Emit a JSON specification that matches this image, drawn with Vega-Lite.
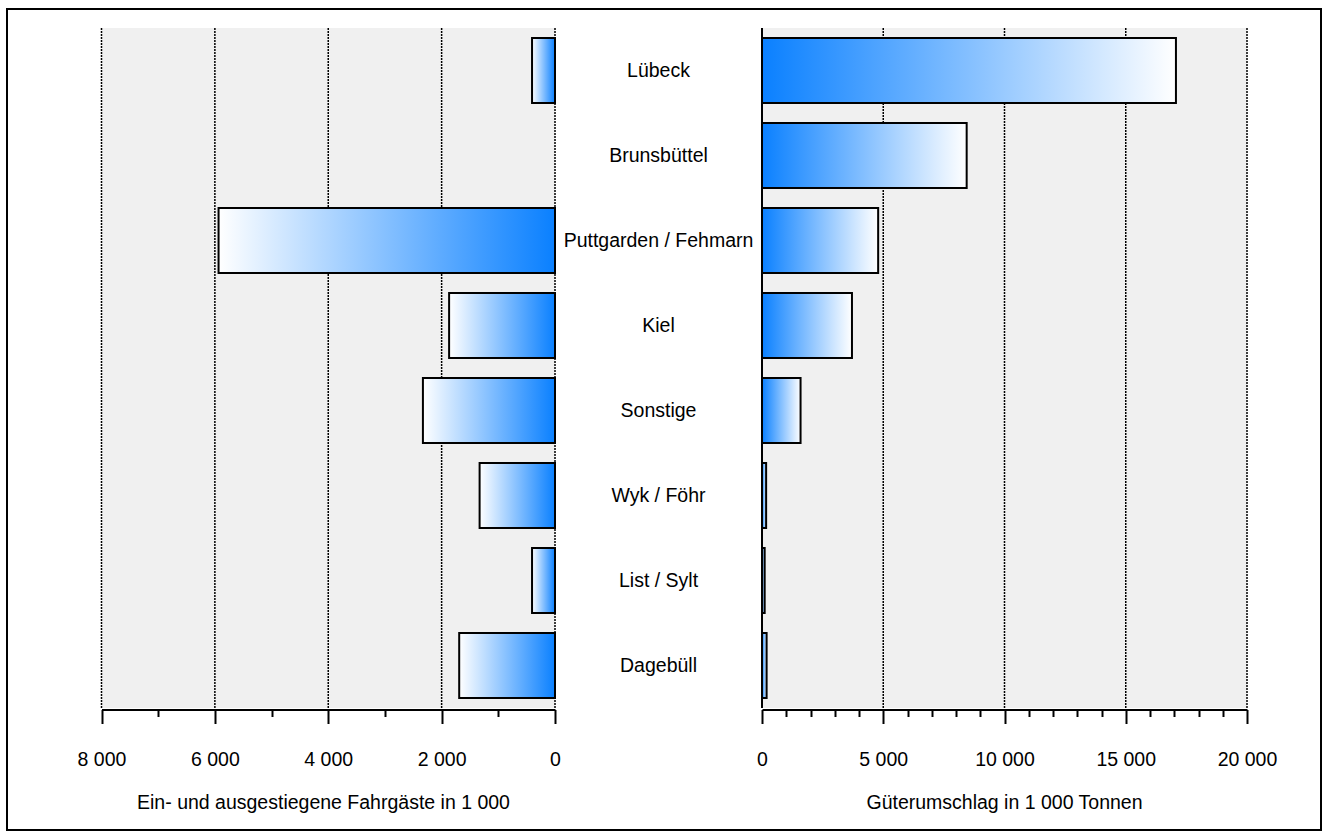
{
  "$schema": "https://vega.github.io/schema/vega-lite/v6.json",
  "width": 1314,
  "height": 821,
  "autosize": {"type": "none"},
  "padding": {"left": 7, "top": 9, "right": 4, "bottom": 4},
  "background": "white",
  "config": {
    "view": {"stroke": "black", "strokeWidth": 2},
    "font": "Liberation Sans, Arial, sans-serif",
    "axis": {
      "labelFont": "Liberation Sans, Arial, sans-serif",
      "titleFont": "Liberation Sans, Arial, sans-serif",
      "labelFontSize": 19.5,
      "titleFontSize": 19.5,
      "titleFontWeight": "normal",
      "labelColor": "black",
      "titleColor": "black",
      "domainColor": "black",
      "domainWidth": 2,
      "tickColor": "black",
      "tickWidth": 2,
      "grid": false,
      "labelFlush": false,
      "labelOverlap": false,
      "labelBaseline": "alphabetic",
      "labelPadding": 41.5,
      "titleBaseline": "alphabetic",
      "titleY": 98.5
    }
  },
  "datasets": {
    "haefen": [
      {"hafen": "Lübeck", "fahrgaeste": 405, "gueter": 17070},
      {"hafen": "Brunsbüttel", "fahrgaeste": null, "gueter": 8440},
      {"hafen": "Puttgarden / Fehmarn", "fahrgaeste": 5935, "gueter": 4790},
      {"hafen": "Kiel", "fahrgaeste": 1868, "gueter": 3710},
      {"hafen": "Sonstige", "fahrgaeste": 2330, "gueter": 1590},
      {"hafen": "Wyk / Föhr", "fahrgaeste": 1330, "gueter": 170},
      {"hafen": "List / Sylt", "fahrgaeste": 405, "gueter": 110},
      {"hafen": "Dagebüll", "fahrgaeste": 1690, "gueter": 190}
    ],
    "gitterLinks": [{"t": 0}, {"t": 2000}, {"t": 4000}, {"t": 6000}, {"t": 8000}],
    "gitterRechts": [{"t": 5000}, {"t": 10000}, {"t": 15000}, {"t": 20000}],
    "flaeche": [{}]
  },
  "layer": [
    {
      "layer": [
        {
          "data": {"name": "flaeche"},
          "mark": {"type": "rect", "fill": "#f0f0f0"},
          "encoding": {
            "x": {"datum": 0, "type": "quantitative", "scale": {"domain": [0, 8000], "range": [548, 94.5]}},
            "x2": {"datum": 8000},
            "y": {"datum": 0, "type": "quantitative", "scale": {"domain": [0, 1], "range": [699, 19]}, "axis": null},
            "y2": {"datum": 1}
          }
        },
        {
          "data": {"name": "gitterLinks"},
          "mark": {"type": "rule", "color": "black", "strokeDash": [2, 1], "strokeWidth": 1.5},
          "encoding": {
            "x": {"field": "t", "type": "quantitative", "scale": {"domain": [0, 8000], "range": [548, 94.5]}},
            "y": {"datum": 0, "type": "quantitative", "scale": {"domain": [0, 1], "range": [699, 19]}, "axis": null},
            "y2": {"datum": 1}
          }
        },
        {
          "data": {"name": "haefen"},
          "mark": {
            "type": "bar",
            "fill": {"gradient": "linear", "x1": 0, "x2": 1, "y1": 0, "y2": 0, "stops": [{"offset": 0, "color": "#ffffff"}, {"offset": 1, "color": "#0a80ff"}]},
            "stroke": "black",
            "strokeWidth": 2
          },
          "encoding": {
            "x": {
              "field": "fahrgaeste",
              "type": "quantitative",
              "scale": {"domain": [0, 8000], "range": [548, 94.5]},
              "axis": {
                "orient": "bottom",
                "offset": -120.5,
                "title": "Ein- und ausgestiegene Fahrgäste in 1 000",
                "titleX": 316,
                "values": [0, 1000, 2000, 3000, 4000, 5000, 6000, 7000, 8000],
                "tickSize": {"condition": {"test": "datum.value % 2000 === 0", "value": 14}, "value": 7},
                "labelExpr": "datum.value % 2000 === 0 ? replace(format(datum.value, ','), ',', ' ') : ''"
              }
            },
            "y": {"field": "hafen", "type": "nominal", "sort": null, "scale": {"domain": ["Lübeck", "Brunsbüttel", "Puttgarden / Fehmarn", "Kiel", "Sonstige", "Wyk / Föhr", "List / Sylt", "Dagebüll"], "range": [19, 699], "paddingInner": 0.235, "paddingOuter": 0.1175}, "axis": null}
          }
        }
      ],
      "resolve": {"scale": {"y": "independent"}}
    },
    {
      "data": {"name": "haefen"},
      "mark": {"type": "text", "fontSize": 19.5, "dx": -5.5, "baseline": "middle", "align": "center", "color": "black"},
      "encoding": {
        "y": {"field": "hafen", "type": "nominal", "sort": null, "scale": {"range": [19, 699], "paddingInner": 0.235, "paddingOuter": 0.1175}, "axis": null},
        "text": {"field": "hafen"}
      }
    },
    {
      "layer": [
        {
          "data": {"name": "flaeche"},
          "mark": {"type": "rect", "fill": "#f0f0f0"},
          "encoding": {
            "x": {"datum": 0, "type": "quantitative", "scale": {"domain": [0, 20000], "range": [755, 1240]}},
            "x2": {"datum": 20000},
            "y": {"datum": 0, "type": "quantitative", "scale": {"domain": [0, 1], "range": [699, 19]}, "axis": null},
            "y2": {"datum": 1}
          }
        },
        {
          "data": {"name": "gitterRechts"},
          "mark": {"type": "rule", "color": "black", "strokeDash": [2, 1], "strokeWidth": 1.5},
          "encoding": {
            "x": {"field": "t", "type": "quantitative", "scale": {"domain": [0, 20000], "range": [755, 1240]}},
            "y": {"datum": 0, "type": "quantitative", "scale": {"domain": [0, 1], "range": [699, 19]}, "axis": null},
            "y2": {"datum": 1}
          }
        },
        {
          "data": {"name": "flaeche"},
          "mark": {"type": "rule", "color": "black", "strokeWidth": 2},
          "encoding": {
            "x": {"datum": 0, "type": "quantitative", "scale": {"domain": [0, 20000], "range": [755, 1240]}},
            "y": {"datum": 0, "type": "quantitative", "scale": {"domain": [0, 1], "range": [699, 19]}, "axis": null},
            "y2": {"datum": 1}
          }
        },
        {
          "data": {"name": "haefen"},
          "mark": {
            "type": "bar",
            "fill": {"gradient": "linear", "x1": 0, "x2": 1, "y1": 0, "y2": 0, "stops": [{"offset": 0, "color": "#0a80ff"}, {"offset": 1, "color": "#ffffff"}]},
            "stroke": "black",
            "strokeWidth": 2
          },
          "encoding": {
            "x": {
              "field": "gueter",
              "type": "quantitative",
              "scale": {"domain": [0, 20000], "range": [755, 1240]},
              "axis": {
                "orient": "bottom",
                "offset": -120.5,
                "title": "Güterumschlag in 1 000 Tonnen",
                "titleX": 997,
                "values": [0, 1000, 2000, 3000, 4000, 5000, 6000, 7000, 8000, 9000, 10000, 11000, 12000, 13000, 14000, 15000, 16000, 17000, 18000, 19000, 20000],
                "tickSize": {"condition": {"test": "datum.value % 5000 === 0", "value": 14}, "value": 7},
                "labelExpr": "datum.value % 5000 === 0 ? replace(format(datum.value, ','), ',', ' ') : ''"
              }
            },
            "y": {"field": "hafen", "type": "nominal", "sort": null, "scale": {"range": [19, 699], "paddingInner": 0.235, "paddingOuter": 0.1175}, "axis": null}
          }
        }
      ],
      "resolve": {"scale": {"y": "independent"}}
    }
  ],
  "resolve": {"scale": {"x": "independent", "y": "independent"}, "axis": {"x": "independent"}}
}
